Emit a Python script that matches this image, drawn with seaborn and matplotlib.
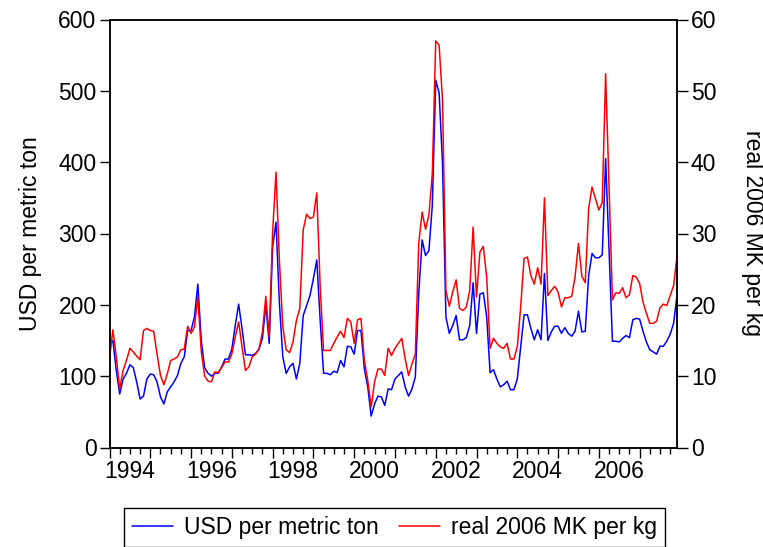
import numpy as np
import pandas as pd
import matplotlib
matplotlib.use("Agg")
import matplotlib.pyplot as plt
from matplotlib.ticker import MultipleLocator, FuncFormatter
import seaborn as sns

# monthly prices, Jan 1994 - Dec 2007
months = pd.period_range("1994-01", "2007-12", freq="M")

usd_per_ton = [
    143, 150, 108, 75, 96, 104, 116, 112, 92, 68, 72, 96,        # 1994
    103, 102, 92, 71, 61, 78, 85, 92, 101, 118, 127, 164,        # 1995
    164, 183, 229, 150, 112, 104, 100, 104, 104, 113, 124, 124,  # 1996
    138, 171, 201, 167, 130, 130, 129, 132, 138, 153, 200, 146,  # 1997
    281, 316, 202, 127, 104, 113, 118, 96, 118, 185, 199, 213,   # 1998
    237, 263, 178, 104, 104, 102, 107, 105, 122, 113, 142, 141,  # 1999
    131, 164, 164, 110, 85, 44, 61, 72, 71, 59, 82, 81,          # 2000
    96, 101, 106, 85, 72, 82, 99, 215, 291, 269, 276, 340,       # 2001
    515, 497, 398, 183, 160, 171, 185, 151, 151, 154, 171, 231,  # 2002
    160, 215, 217, 183, 105, 109, 96, 85, 88, 93, 81, 81,        # 2003
    96, 141, 186, 186, 167, 151, 165, 151, 244, 150, 162, 170,   # 2004
    170, 160, 168, 160, 156, 163, 191, 162, 163, 241, 272, 266,  # 2005
    266, 270, 405, 275, 149, 149, 148, 153, 157, 154, 179, 181,  # 2006
    180, 163, 148, 137, 134, 131, 142, 142, 149, 159, 174, 213,  # 2007
]

mk_per_kg = [
    12.5, 16.5, 12.7, 8.2, 10.8, 12.2, 13.9, 13.4, 12.8, 12.3, 16.4, 16.7,
    16.4, 16.3, 13.1, 10.1, 8.8, 10.3, 12.2, 12.4, 12.7, 13.7, 13.8, 17.0,
    16.0, 16.9, 21.1, 13.5, 10.0, 9.3, 9.2, 10.6, 10.5, 11.2, 12.0, 12.0,
    13.1, 15.5, 17.6, 14.1, 10.8, 11.3, 12.7, 13.1, 13.8, 16.2, 21.2, 15.5,
    30.2, 38.6, 26.2, 16.9, 13.7, 13.3, 14.8, 17.8, 19.5, 30.5, 32.7, 32.1,
    32.3, 35.7, 22.5, 13.6, 13.6, 13.6, 14.6, 15.5, 16.3, 15.4, 18.1, 17.6,
    14.6, 17.9, 18.1, 12.2, 9.4, 5.7, 9.2, 11.0, 11.0, 10.1, 13.9, 12.9,
    13.9, 14.6, 15.3, 12.5, 10.1, 11.7, 13.1, 28.6, 33.0, 30.6, 32.6, 38.4,
    57.0, 56.4, 48.7, 22.0, 19.8, 21.8, 23.5, 19.5, 19.2, 19.7, 22.0, 30.9,
    21.1, 27.4, 28.2, 23.9, 13.9, 15.3, 14.6, 14.1, 13.9, 14.6, 12.4, 12.4,
    14.1, 19.7, 26.5, 26.7, 24.1, 22.9, 25.2, 22.9, 35.0, 21.3, 22.0, 22.6,
    21.8, 19.7, 21.0, 21.0, 21.2, 23.9, 28.6, 24.0, 23.1, 33.5, 36.5, 34.9,
    33.3, 34.3, 52.4, 36.5, 20.7, 21.7, 21.6, 22.4, 21.0, 21.4, 24.1, 23.9,
    23.0, 20.4, 18.8, 17.4, 17.4, 17.7, 19.6, 20.1, 19.9, 21.3, 22.7, 26.8,
]

label_usd = "USD per metric ton"
label_mk = "real 2006 MK per kg"

sns.set_style("ticks")
plt.rcParams["font.family"] = ["Liberation Sans", "DejaVu Sans"]
plt.rcParams.update({"text.color": "black", "axes.labelcolor": "black",
                     "xtick.color": "black", "ytick.color": "black"})
fs = 16.5

t = months.year + (months.month - 1) / 12.0

fig = plt.figure(figsize=(7.63, 5.47), dpi=100)
ax = fig.add_axes([109.5 / 763, 1 - 447.5 / 547, 567.5 / 763, 428 / 547])
ax2 = ax.twinx()

sns.lineplot(x=t, y=usd_per_ton, ax=ax, color="#0000ff", lw=1.1, label=label_usd, legend=False)
sns.lineplot(x=t, y=mk_per_kg, ax=ax2, color="#ff0000", lw=1.1, label=label_mk, legend=False)

ax.set_xlim(t[0], t[-1])
ax.set_ylim(0, 600)
ax2.set_ylim(0, 60)
ax.yaxis.set_major_locator(MultipleLocator(100))
ax2.yaxis.set_major_locator(MultipleLocator(10))

# year boundaries as long ticks, quarters as short ticks, labels mid-year every 2 years
ax.xaxis.set_major_locator(MultipleLocator(1))
ax.xaxis.set_major_formatter(FuncFormatter(lambda v, p: ""))
ax.xaxis.set_minor_locator(MultipleLocator(0.25))


def year_label(v, pos):
    yr = int(np.floor(v))
    if abs(v - yr - 0.5) < 1e-6 and yr % 2 == 0:
        return str(yr)
    return ""


ax.xaxis.set_minor_formatter(FuncFormatter(year_label))

for a in (ax, ax2):
    for s in a.spines.values():
        s.set_linewidth(1.1)
        s.set_color("black")
ax.tick_params(axis="x", which="major", direction="out", length=7.3, width=1, labelsize=fs)
ax.tick_params(axis="x", which="minor", direction="out", length=4.5, width=1, labelsize=fs, pad=4.5)
ax.tick_params(axis="y", direction="out", length=7.3, width=1, labelsize=fs, pad=2)
ax2.tick_params(axis="y", direction="out", length=8, width=1, labelsize=fs, pad=2)

ax.set_xlabel("")
ax.set_ylabel(label_usd, fontsize=fs, labelpad=12)
ax2.set_ylabel(label_mk, fontsize=fs, rotation=270, va="bottom", labelpad=18)

handles = ax.get_lines()[:1] + ax2.get_lines()[:1]
leg = fig.legend(handles, [label_usd, label_mk], loc="upper center",
                 bbox_to_anchor=(394.4 / 763, 1 - 508 / 547), ncol=2, fontsize=fs,
                 frameon=True, fancybox=False, edgecolor="black", framealpha=1,
                 handlelength=1.8, handletextpad=0.45, columnspacing=0.9,
                 borderpad=0.35, borderaxespad=0)
leg.get_frame().set_linewidth(1.0)

fig.savefig("out.png", dpi=100)
